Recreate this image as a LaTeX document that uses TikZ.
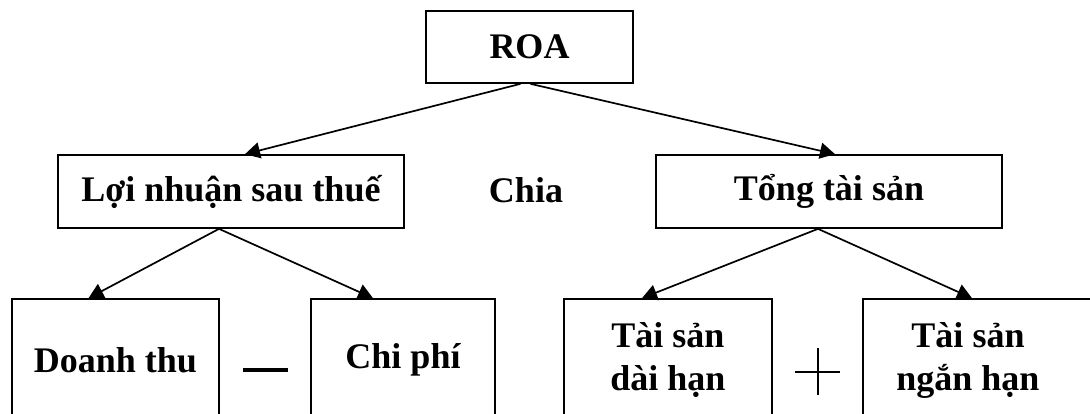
\documentclass[tikz,border=0pt]{standalone}
\usepackage{fontspec}
\setmainfont{Liberation Serif}
\usetikzlibrary{arrows.meta}
\usetikzlibrary{calc}

\begin{document}
\begin{tikzpicture}[x=1pt,y=-1pt]
\tikzstyle box=[draw, line width=1.7pt, font=\bfseries\fontsize{36}{43}\selectfont, align=center, inner sep=0pt];
\tikzstyle link=[line width=1.7pt, -{Triangle[length=15pt,width=16pt]}];
\useasboundingbox (0,0) rectangle (1090,414);
\clip (0,0) rectangle (1090,414);
\node[box, minimum width=207, minimum height=72] (roa) at (529.5,47) {ROA};
\node[box, minimum width=346, minimum height=73] (lnst) at (231,191.5) {Lợi nhuận sau thuế};
\node[box, minimum width=346, minimum height=73] (tts) at (829,191.5) {Tổng tài sản};
\node[box, draw=none] (chia) at (526,190) {Chia};
\node[box, minimum width=207, minimum height=122] (dt) at (115.5,360) {Doanh thu};
\node[box, minimum width=184, minimum height=122] (cp) at (403,360) {Chi phí};
\node[box, minimum width=208, minimum height=122] (tsdh) at (668,360) {Tài sản\\dài hạn};
\node[box, minimum width=260, minimum height=122] (tsnh) at (993,360) {};
\node[box, draw=none] (tsnhtext) at (968,360) {Tài sản\\ngắn hạn};
\draw[link] ($(roa.south)+(-9,0)$) -- ($(lnst.north)+(14,0)$);
\draw[link] ($(roa.south)+(1,0)$) -- ($(tts.north)+(6,0)$);
\draw[link] ($(lnst.south)+(-12,0)$) -- ($(dt.north)+(-27,0)$);
\draw[link] ($(lnst.south)+(-12,0)$) -- ($(cp.north)+(-30,0)$);
\draw[link] ($(tts.south)+(-11,0)$) -- ($(tsdh.north)+(-26,0)$);
\draw[link] ($(tts.south)+(-11,0)$) -- ($(tsnh.north)+(-21,0)$);
% dau tru, dau cong
\draw[line width=4pt] (243,370) -- (288,370);
\draw[line width=2pt] (795,372) -- (840,372);
\draw[line width=2pt] (818,348) -- (818,395);
\end{tikzpicture}
\end{document}
